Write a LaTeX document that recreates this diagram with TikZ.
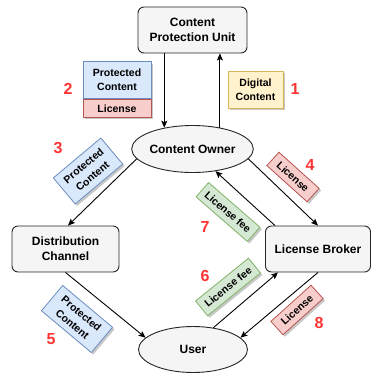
\documentclass[tikz,border=0pt]{standalone}
\usepackage{fontspec}
\setmainfont{Liberation Sans}
\usetikzlibrary{shapes.geometric,arrows.meta,shadows}
\definecolor{boxfill}{HTML}{F5F5F5}
\definecolor{bluefill}{HTML}{DAE8FC}
\definecolor{bluedraw}{HTML}{6C8EBF}
\definecolor{pinkfill}{HTML}{F8CECC}
\definecolor{pinkdraw}{HTML}{B85450}
\definecolor{yelfill}{HTML}{FFF2CC}
\definecolor{yeldraw}{HTML}{D6B656}
\definecolor{grnfill}{HTML}{D5E8D4}
\definecolor{grndraw}{HTML}{82B366}
\definecolor{numred}{HTML}{FF3333}
\tikzset{
  mainbox/.style={draw=black!85, fill=boxfill, rounded corners=6pt, line width=0.9pt,
    minimum width=107pt, minimum height=46pt, align=center, inner sep=2pt,
    font=\fontsize{12}{15}\selectfont\bfseries},
  mainell/.style={draw=black!85, fill=boxfill, ellipse, line width=0.9pt,
    minimum width=109pt, minimum height=47pt, inner sep=0pt,
    font=\fontsize{12}{15}\selectfont\bfseries},
  lbl/.style={line width=0.8pt, align=center, inner sep=1pt,
    font=\fontsize{10.5}{14}\selectfont\bfseries,
    drop shadow={shadow xshift=2pt, shadow yshift=-2pt, opacity=0.22, fill=black}},
  bluelbl/.style={lbl, draw=bluedraw, fill=bluefill},
  pinklbl/.style={lbl, draw=pinkdraw, fill=pinkfill},
  yellbl/.style={lbl, draw=yeldraw, fill=yelfill},
  grnlbl/.style={lbl, draw=grndraw, fill=grnfill},
  num/.style={text=numred, font=\fontsize{16}{18}\selectfont\bfseries, inner sep=0pt},
  arr/.style={draw=black, line width=0.9pt, -{Stealth[length=7pt,width=6pt,inset=1.5pt]}}
}
\begin{document}
\begin{tikzpicture}[x=1pt,y=-1pt]
\useasboundingbox (0,0) rectangle (372,373);
% main nodes
\node[mainbox, minimum width=109pt] (cpu) at (192.5,30) {Content\\Protection Unit};
\node[mainell] (owner) at (192.5,149) {Content Owner};
\node[mainbox] (dist) at (65.5,249) {Distribution\\Channel};
\node[mainbox, minimum width=105pt] (broker) at (318,249) {License Broker};
\node[mainell, minimum height=46pt] (user) at (193,349.5) {User};
% label boxes
\node[bluelbl, minimum width=68pt, minimum height=37pt, anchor=south] (pc2) at (117,99) {Protected\\Content};
\node[pinklbl, minimum width=68pt, minimum height=18pt, anchor=north, drop shadow={opacity=0}] (li2) at (117,99) {License};
\node[yellbl, minimum width=55pt, minimum height=37pt] (dc1) at (255.5,89.5) {Digital\\Content};
\node[bluelbl, minimum width=62pt, minimum height=34pt, rotate=40] (pc3) at (88,171) {Protected\\Content};
\node[pinklbl, minimum width=54pt, minimum height=18pt, rotate=-42] (li4) at (293,177) {License};
\node[grnlbl, minimum width=68pt, minimum height=19pt, rotate=-41] (lf7) at (228,212) {License fee};
\node[bluelbl, minimum width=65pt, minimum height=33pt, rotate=-40] (pc5) at (77,319) {Protected\\Content};
\node[grnlbl, minimum width=68pt, minimum height=19pt, rotate=39] (lf6) at (228,287) {License fee};
\node[pinklbl, minimum width=54pt, minimum height=18pt, rotate=42] (li8) at (297,310) {License};
% numbers
\node[num] (n1) at (295,89) {1};
\node[num] (n2) at (68,89) {2};
\node[num] (n3) at (58,148) {3};
\node[num] (n4) at (310,165) {4};
\node[num] (n5) at (51,339) {5};
\node[num] (n6) at (205,276) {6};
\node[num] (n7) at (205,227) {7};
\node[num] (n8) at (319,323) {8};
% connectors
\draw[arr] (cpu.south -| owner.143) -- (owner.143);
\draw[arr] (owner.38) -- (owner.38 |- cpu.south);
\draw[arr] (owner.190) -- ([xshift=2.5pt]dist.north);
\draw[arr] (owner.-10) -- (broker.north);
\draw[arr] ([xshift=-43pt]broker.north) -- (owner.-44);
\draw[arr] (dist.south) -- (user.166);
\draw[arr] (user.47) -- ([xshift=-40pt]broker.south);
\draw[arr] (broker.south) -- (user.14);
\end{tikzpicture}
\end{document}
